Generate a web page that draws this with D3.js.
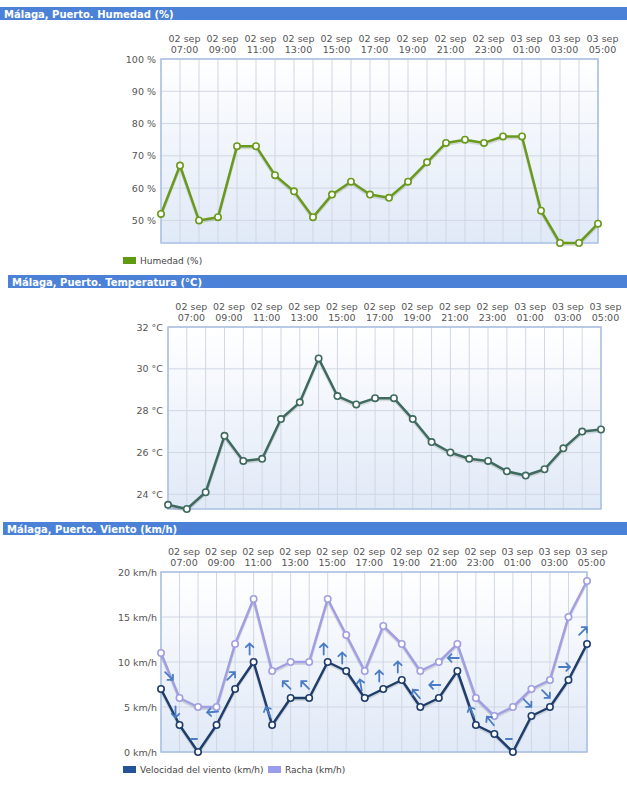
<!DOCTYPE html>
<html>
<head>
<meta charset="utf-8">
<script src="https://cdn.jsdelivr.net/npm/d3@7"></script>
<style>
  body { margin: 0; background: #fff; }
  svg text { font-family: "DejaVu Sans", Verdana, sans-serif; }
</style>
</head>
<body>
<svg id="chart" width="627" height="785"></svg>
<script>
// Hourly observations, 02 sep 06:00 -> 03 sep 05:00
const times = [
  '02 sep 06:00', '02 sep 07:00', '02 sep 08:00', '02 sep 09:00', '02 sep 10:00', '02 sep 11:00',
  '02 sep 12:00', '02 sep 13:00', '02 sep 14:00', '02 sep 15:00', '02 sep 16:00', '02 sep 17:00',
  '02 sep 18:00', '02 sep 19:00', '02 sep 20:00', '02 sep 21:00', '02 sep 22:00', '02 sep 23:00',
  '03 sep 00:00', '03 sep 01:00', '03 sep 02:00', '03 sep 03:00', '03 sep 04:00', '03 sep 05:00'
]
const humidity = [52, 67, 50, 51, 73, 73, 64, 59, 51, 58, 62, 58, 57, 62, 68, 74, 75, 74, 76, 76, 53, 43, 43, 49]
const temperature = [23.5, 23.3, 24.1, 26.8, 25.6, 25.7, 27.6, 28.4, 30.5, 28.7, 28.3, 28.6, 28.6, 27.6, 26.5, 26.0, 25.7, 25.6, 25.1, 24.9, 25.2, 26.2, 27.0, 27.1]
const windSpeed = [7, 3, 0, 3, 7, 10, 3, 6, 6, 10, 9, 6, 7, 8, 5, 6, 9, 3, 2, 0, 4, 5, 8, 12]
const windGust = [11, 6, 5, 5, 12, 17, 9, 10, 10, 17, 13, 9, 14, 12, 9, 10, 12, 6, 4, 5, 7, 8, 15, 19]
// direction the arrow points to (degrees, 0 = up), null = calm
const windDir = [135, 180, null, 265, 45, 0, 335, 315, 315, 0, 0, 350, 0, 0, 320, 270, 270, 335, 320, null, 135, 135, 90, 45]

const humidityTicks = [50, 60, 70, 80, 90, 100]
const temperatureTicks = [24, 26, 28, 30, 32]
const windTicks = [0, 5, 10, 15, 20]

const svg = d3.select('#chart')

// plot background gradient
const grad = svg.append('defs').append('linearGradient')
  .attr('id', 'plotBg').attr('x1', 0).attr('y1', 0).attr('x2', 0).attr('y2', 1)
grad.append('stop').attr('offset', '0%').attr('stop-color', '#ffffff')
grad.append('stop').attr('offset', '100%').attr('stop-color', '#e0e9f7')

const labelTimes = times.filter((t, i) => i % 2 === 1)

function drawPanel (p) {
  const g = svg.append('g')

  // title bar
  g.append('rect').attr('x', p.barX).attr('y', p.barY).attr('width', 627 - p.barX).attr('height', 13)
    .attr('fill', '#4b82d8')
  g.append('text').attr('x', p.barX + 4).attr('y', p.barY + 10.5)
    .attr('fill', '#fff').attr('font-weight', 'bold').attr('font-size', '10px')
    .text(p.title)

  const x = d3.scalePoint().domain(times).range([p.left, p.right])
  const y = d3.scaleLinear().domain(p.domain).range([p.bottom, p.top])

  g.append('rect').attr('x', p.left).attr('y', p.top).attr('width', p.right - p.left).attr('height', p.bottom - p.top)
    .attr('fill', 'url(#plotBg)')

  // grid
  g.append('g').selectAll('line').data(times).join('line')
    .attr('x1', d => x(d)).attr('x2', d => x(d)).attr('y1', p.top).attr('y2', p.bottom)
    .attr('stroke', '#d0d7e2').attr('stroke-width', 1)
  g.append('g').selectAll('line').data(p.ticks).join('line')
    .attr('x1', p.left).attr('x2', p.right).attr('y1', d => y(d)).attr('y2', d => y(d))
    .attr('stroke', '#d0d7e2').attr('stroke-width', 1)

  g.append('rect').attr('x', p.left).attr('y', p.top).attr('width', p.right - p.left).attr('height', p.bottom - p.top)
    .attr('fill', 'none').attr('stroke', '#a9c0e2').attr('stroke-width', 1.5)

  // y axis
  const yAxis = g.append('g').attr('transform', `translate(${p.left},0)`)
    .call(d3.axisLeft(y).tickValues(p.ticks).tickSize(0).tickPadding(p.tickPad).tickFormat(p.fmt))
  yAxis.select('.domain').remove()
  yAxis.selectAll('text').attr('fill', '#555').attr('font-size', '9.5px').attr('font-family', null)

  // x axis (two line labels on top)
  const xAxis = g.append('g').attr('transform', `translate(0,${p.top})`)
    .call(d3.axisTop(x).tickValues(labelTimes).tickSize(0).tickFormat(''))
  xAxis.select('.domain').remove()
  xAxis.selectAll('.tick text').remove()
  xAxis.selectAll('.tick').each(function (d) {
    const t = d3.select(this).append('text').attr('fill', '#555').attr('font-size', '9.5px')
      .attr('text-anchor', 'middle').attr('x', 4)
    t.append('tspan').attr('x', 4).attr('y', -17).text(d.slice(0, 6))
    t.append('tspan').attr('x', 4).attr('y', -6).text(d.slice(7))
  })

  const line = d3.line().x((d, i) => x(times[i])).y(d => y(d))
  p.series.forEach(s => {
    g.append('path').datum(s.values).attr('d', line)
      .attr('fill', 'none').attr('stroke', '#000').attr('stroke-opacity', 0.12)
      .attr('stroke-width', 3).attr('transform', 'translate(0,1.5)')
    g.append('path').datum(s.values).attr('d', line)
      .attr('fill', 'none').attr('stroke', s.color).attr('stroke-width', 2.5).attr('stroke-linejoin', 'round')
    g.append('g').selectAll('circle').data(s.values).join('circle')
      .attr('cx', (d, i) => x(times[i])).attr('cy', d => y(d)).attr('r', 3.2)
      .attr('fill', '#fff').attr('stroke', s.color).attr('stroke-width', 1.6)
  })

  return { g, x, y }
}

drawPanel({
  title: 'Málaga, Puerto. Humedad (%)',
  barX: 0, barY: 7,
  left: 161, right: 598, top: 59, bottom: 243,
  domain: [43, 100], ticks: humidityTicks, fmt: d => d + ' %', tickPad: 5,
  series: [{ values: humidity, color: '#6a9a1c' }]
})

drawPanel({
  title: 'Málaga, Puerto. Temperatura (°C)',
  barX: 8, barY: 275,
  left: 168, right: 601, top: 327, bottom: 509,
  domain: [23.3, 32], ticks: temperatureTicks, fmt: d => d + ' °C', tickPad: 5,
  series: [{ values: temperature, color: '#3f6a5e' }]
})

const wind = drawPanel({
  title: 'Málaga, Puerto. Viento (km/h)',
  barX: 3, barY: 522,
  left: 161, right: 587, top: 572, bottom: 752,
  domain: [0, 20], ticks: windTicks, fmt: d => d + ' km/h', tickPad: 4,
  series: [{ values: windGust, color: '#a19fe2' }, { values: windSpeed, color: '#1f3e6c' }]
})

// wind direction arrows
wind.g.append('g').selectAll('path').data(windDir).join('path')
  .attr('transform', (d, i) => {
    const ax = Math.max(wind.x(times[i]) - 4, 169)
    const ay = wind.y(windSpeed[i]) - 13
    return `translate(${ax},${ay}) rotate(${d === null ? 0 : d})`
  })
  .attr('d', d => d === null ? 'M-3,0L3,0' : 'M0,5.5L0,-5.5M-3.8,-1.8L0,-5.5L3.8,-1.8')
  .attr('fill', 'none').attr('stroke', '#4a7cc6').attr('stroke-width', 1.8).attr('stroke-linecap', 'round')

// legends
const legendItems = [
  { x: 123, y: 257, color: '#5f9a12', label: 'Humedad (%)' },
  { x: 123, y: 766, color: '#24539a', label: 'Velocidad del viento (km/h)' },
  { x: 268, y: 766, color: '#9c9cec', label: 'Racha (km/h)' }
]
const legend = svg.append('g').selectAll('g').data(legendItems).join('g')
  .attr('transform', d => `translate(${d.x},${d.y})`)
legend.append('rect').attr('width', 13).attr('height', 7).attr('fill', d => d.color)
legend.append('text').attr('x', 17).attr('y', 7).attr('font-size', '9px').attr('fill', '#444')
  .text(d => d.label)
</script>
</body>
</html>
